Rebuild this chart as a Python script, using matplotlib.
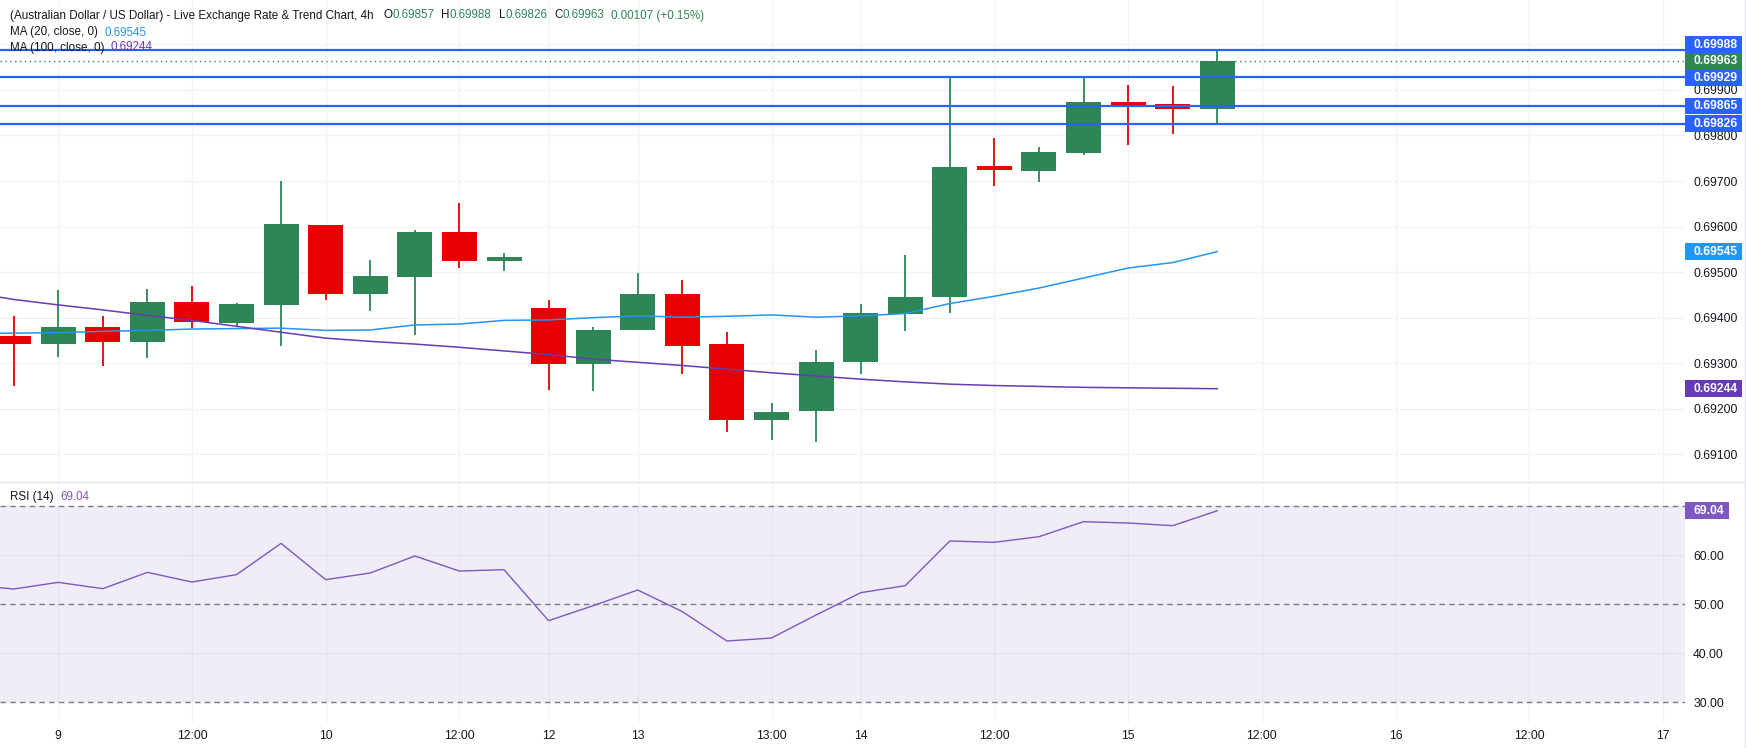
import numpy as np
import matplotlib
matplotlib.use("Agg")
import matplotlib.pyplot as plt
from matplotlib.patches import Rectangle
from matplotlib.lines import Line2D
from matplotlib.ticker import FormatStrFormatter

plt.rcParams['font.family'] = ['Liberation Sans', 'DejaVu Sans']

# AUD/USD 4h candles, oldest first
opens  = [0.69360, 0.69342, 0.69380, 0.69347, 0.69434, 0.69389, 0.69428, 0.69603,
          0.69453, 0.69490, 0.69588, 0.69525, 0.69421, 0.69299, 0.69374, 0.69452,
          0.69342, 0.69176, 0.69194, 0.69303, 0.69409, 0.69446, 0.69733, 0.69723,
          0.69762, 0.69873, 0.69869, 0.69857]
highs  = [0.69404, 0.69461, 0.69404, 0.69463, 0.69470, 0.69432, 0.69700, 0.69604,
          0.69527, 0.69592, 0.69652, 0.69542, 0.69439, 0.69380, 0.69498, 0.69483,
          0.69369, 0.69213, 0.69329, 0.69430, 0.69538, 0.69928, 0.69794, 0.69775,
          0.69929, 0.69911, 0.69909, 0.69988]
lows   = [0.69250, 0.69314, 0.69294, 0.69312, 0.69377, 0.69380, 0.69338, 0.69439,
          0.69415, 0.69363, 0.69510, 0.69503, 0.69242, 0.69240, 0.69373, 0.69277,
          0.69150, 0.69132, 0.69128, 0.69277, 0.69371, 0.69411, 0.69690, 0.69698,
          0.69758, 0.69778, 0.69804, 0.69826]
closes = [0.69342, 0.69380, 0.69347, 0.69434, 0.69390, 0.69430, 0.69606, 0.69453,
          0.69491, 0.69588, 0.69525, 0.69533, 0.69299, 0.69373, 0.69452, 0.69338,
          0.69176, 0.69193, 0.69303, 0.69410, 0.69445, 0.69731, 0.69725, 0.69764,
          0.69873, 0.69867, 0.69857, 0.69963]

# indicators start one bar before the first visible candle
ma20  = [0.69365, 0.69366, 0.69367, 0.69370, 0.69372, 0.69375, 0.69376, 0.69377,
         0.69372, 0.69373, 0.69384, 0.69386, 0.69394, 0.69395, 0.69400, 0.69404,
         0.69401, 0.69403, 0.69406, 0.69401, 0.69404, 0.69409, 0.69431, 0.69447,
         0.69465, 0.69487, 0.69509, 0.69521, 0.69545]
ma100 = [0.69456, 0.69440, 0.69428, 0.69417, 0.69405, 0.69394, 0.69381, 0.69368,
         0.69355, 0.69348, 0.69342, 0.69335, 0.69327, 0.69319, 0.69309, 0.69302,
         0.69295, 0.69287, 0.69279, 0.69272, 0.69265, 0.69259, 0.69254, 0.69251,
         0.69249, 0.69247, 0.69246, 0.69245, 0.69244]
rsi   = [53.95, 53.06, 54.42, 53.13, 56.46, 54.49, 55.99, 62.38, 54.97, 56.33,
         59.80, 56.73, 57.01, 46.60, 49.66, 52.86, 48.44, 42.45, 43.06, 47.76,
         52.31, 53.74, 62.86, 62.59, 63.74, 66.80, 66.53, 65.99, 69.04]

levels = [0.69988, 0.69929, 0.69865, 0.69826]
last_price = 0.69963

tick_pos = [1, 4, 7, 10, 12, 14, 17, 19, 22, 25, 28, 31, 34, 37]
tick_lab = ['9', '12:00', '10', '12:00', '12', '13', '13:00', '14',
            '12:00', '15', '12:00', '16', '12:00', '17']

W, H = 1746, 748
GREEN = '#2e8555'
RED = '#e60000'
BLUE = '#2962ff'
MA20_C = '#2196f3'
MA100_C = '#673ab7'
RSI_C = '#7e57c2'
TXT = '#131722'
GRID = '#f0f3fa'
SEP = '#e0e3eb'
TICK_FS = 8.7

fig = plt.figure(figsize=(W / 100, H / 100), dpi=100)
ax1 = fig.add_axes([0, 1 - 482 / H, 1685 / W, 482 / H])
ax2 = fig.add_axes([0, 1 - 722 / H, 1685 / W, 240 / H], sharex=ax1)

n = len(opens)
xi = np.arange(-1, n)

for i in range(n):
    o, h, l, c = opens[i], highs[i], lows[i], closes[i]
    col = GREEN if c >= o else RED
    ax1.vlines(i, l, h, color=col, lw=1.3, zorder=3)
    ax1.bar(i, abs(c - o), bottom=min(o, c), width=0.785, color=col, lw=0, zorder=4)

ax1.plot(xi, ma20, color=MA20_C, lw=1.1, zorder=5)
ax1.plot(xi, ma100, color=MA100_C, lw=1.1, zorder=5)
for p in levels:
    ax1.axhline(p, color=BLUE, lw=1.6, zorder=6)
ax1.axhline(last_price, color=GREEN, lw=1, ls=(0, (1, 2.5)), zorder=6)

ax1.set_xlim(-0.305, 37.49)
ax1.set_ylim(0.690392, 0.700974)
ax1.set_yticks(np.arange(0.691, 0.70001, 0.001))
ax1.yaxis.set_major_formatter(FormatStrFormatter('%.5f'))
ax1.yaxis.tick_right()
ax1.tick_params(axis='y', length=0, pad=5.8, labelsize=TICK_FS, labelcolor=TXT)
ax1.tick_params(axis='x', length=0, labelbottom=False)
ax1.grid(color=GRID, lw=1)
ax1.set_axisbelow(True)

# RSI pane
ax2.axhspan(30, 70, color=RSI_C, alpha=0.1, lw=0)
for v in [40, 60]:
    ax2.axhline(v, color='#e4e0ee', lw=1, zorder=1)
for v in [30, 50, 70]:
    ax2.axhline(v, color='#787b86', lw=1, ls=(0, (4, 3)), zorder=2)
ax2.plot(xi, rsi, color=RSI_C, lw=1, zorder=3)
ax2.set_ylim(25.92, 74.9)
ax2.set_yticks([30, 40, 50, 60, 70])
ax2.yaxis.set_major_formatter(FormatStrFormatter('%.2f'))
ax2.yaxis.tick_right()
ax2.tick_params(axis='y', length=0, pad=5.8, labelsize=TICK_FS, labelcolor=TXT)
ax2.set_xticks(tick_pos, tick_lab)
ax2.tick_params(axis='x', length=0, pad=5.5, labelsize=TICK_FS, labelcolor=TXT)
ax2.grid(axis='x', color=GRID, lw=1)
ax2.set_axisbelow(True)

for ax in (ax1, ax2):
    for s in ax.spines.values():
        s.set_visible(False)

fig.add_artist(Line2D([0, 1], [1 - 482 / H] * 2, color=SEP, lw=1))
fig.add_artist(Line2D([1745 / W] * 2, [0, 1], color=SEP, lw=1))

renderer = fig.canvas.get_renderer()


def legend_row(x_px, y_px, parts, size=8.4):
    x = x_px
    for s, col, gap in parts:
        t = fig.text(x / W, 1 - y_px / H, s, color=col, fontsize=size, va='center', ha='left')
        x = t.get_window_extent(renderer).x1 + gap


legend_row(9.5, 15.5, [
    ('(Australian Dollar / US Dollar) - Live Exchange Rate & Trend Chart, 4h', TXT, 10),
    ('O', TXT, 0), ('0.69857', GREEN, 7),
    ('H', TXT, 0), ('0.69988', GREEN, 7),
    ('L', TXT, 0), ('0.69826', GREEN, 7),
    ('C', TXT, 0), ('0.69963', GREEN, 7),
    ('0.00107 (+0.15%)', GREEN, 0)])
legend_row(9.5, 32.5, [('MA (20, close, 0)', TXT, 7), ('0.69545', MA20_C, 0)])
legend_row(9.5, 47.5, [('MA (100, close, 0)', TXT, 7), ('0.69244', MA100_C, 0)])
legend_row(9.5, 497, [('RSI (14)', TXT, 7), ('69.04', RSI_C, 0)])

BOX_H = 16.7


def tag(y_disp, text, color):
    t = fig.text(1693 / W, y_disp / H, text, color='white', fontsize=TICK_FS,
                 fontweight='bold', va='center', ha='left', zorder=11)
    bb = t.get_window_extent(renderer)
    fig.add_artist(Rectangle((1685 / W, (y_disp - BOX_H / 2) / H),
                             (bb.x1 + 5 - 1685) / W, BOX_H / H,
                             transform=fig.transFigure, color=color, lw=0, zorder=10))


tags = [(p, BLUE) for p in levels] + [(ma20[-1], MA20_C), (ma100[-1], MA100_C)]
ypix = lambda p: ax1.transData.transform((0, p))[1]
anchor = ypix(last_price)
tag(anchor, '%.5f' % last_price, GREEN)
prev = anchor
for p, col in sorted([t for t in tags if ypix(t[0]) > anchor], key=lambda t: ypix(t[0])):
    y = max(ypix(p), prev + BOX_H)
    tag(y, '%.5f' % p, col)
    prev = y
prev = anchor
for p, col in sorted([t for t in tags if ypix(t[0]) < anchor], key=lambda t: -ypix(t[0])):
    y = min(ypix(p), prev - BOX_H)
    tag(y, '%.5f' % p, col)
    prev = y

tag(ax2.transData.transform((0, rsi[-1]))[1], '%.2f' % rsi[-1], RSI_C)

fig.savefig('out.png', dpi=100, facecolor='white')
